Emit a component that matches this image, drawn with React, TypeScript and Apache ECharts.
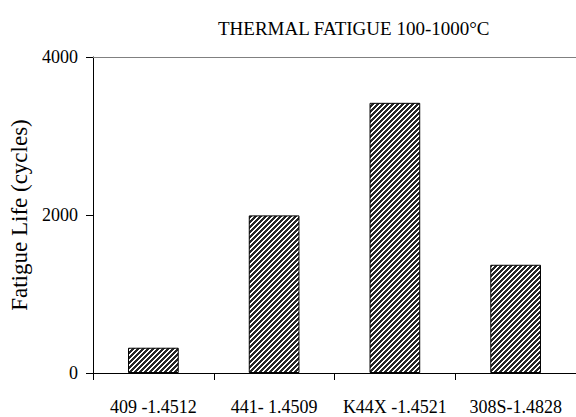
import React, { useEffect, useRef } from "react";
import * as echarts from "echarts";

const categories = ["409 -1.4512", "441- 1.4509", "K44X -1.4521", "308S-1.4828"];
const fatigueLife = [320, 1995, 3420, 1370];
const yTicks = { min: 0, max: 4000, interval: 2000 };
const titleText = "THERMAL FATIGUE 100-1000°C";
const yName = "Fatigue Life (cycles)";

function makeHatch(): HTMLCanvasElement {
  const size = 5;
  const c = document.createElement("canvas");
  c.width = size;
  c.height = size;
  const ctx = c.getContext("2d")!;
  ctx.fillStyle = "#ffffff";
  ctx.fillRect(0, 0, size, size);
  ctx.fillStyle = "#262626";
  for (let x = 0; x < size; x++) {
    for (let y = 0; y < size; y++) {
      if ((x + y) % size < 3) ctx.fillRect(x, y, 1, 1);
    }
  }
  return c;
}

export default function App() {
  const ref = useRef<HTMLDivElement>(null);
  useEffect(() => {
    if (!ref.current) return;
    const chart = echarts.init(ref.current, undefined, { renderer: "svg" });
    const hatch = makeHatch();
    const font = "'Liberation Serif', 'Times New Roman', serif";
    chart.setOption({
      animation: false,
      backgroundColor: "#ffffff",
      title: {
        text: titleText,
        left: 213,
        top: 14,
        textStyle: { fontFamily: font, fontSize: 19, fontWeight: "normal", color: "#000" },
      },
      grid: { left: 93, top: 57, bottom: 44, right: -6, containLabel: false },
      xAxis: [
        {
          type: "category",
          data: categories,
          position: "bottom",
          axisLine: { lineStyle: { color: "#000", width: 1 } },
          axisTick: { show: true, length: 7, alignWithLabel: false, lineStyle: { color: "#000" } },
          axisLabel: { interval: 0, margin: 25, fontFamily: font, fontSize: 18, color: "#000", hideOverlap: false },
          splitLine: { show: false },
        },
        {
          type: "category",
          data: categories,
          position: "top",
          axisLine: { lineStyle: { color: "#808080", width: 1 } },
          axisTick: { show: false },
          axisLabel: { show: false },
        },
      ],
      yAxis: {
        type: "value",
        min: yTicks.min,
        max: yTicks.max,
        interval: yTicks.interval,
        name: yName,
        nameLocation: "middle",
        nameGap: 62,
        nameTextStyle: { fontFamily: font, fontSize: 23, color: "#000" },
        axisLine: { show: true, lineStyle: { color: "#000", width: 1 } },
        axisTick: { show: true, length: 7, lineStyle: { color: "#000" } },
        axisLabel: {
          margin: 15,
          fontFamily: font,
          fontSize: 18,
          color: "#000",
          formatter: (v: number) => String(v),
        },
        splitLine: { show: false },
      },
      series: [
        {
          type: "bar",
          data: fatigueLife,
          barWidth: "42%",
          itemStyle: {
            color: { image: hatch, repeat: "repeat" },
            borderColor: "#000",
            borderWidth: 1,
          },
        },
      ],
    });
    return () => chart.dispose();
  }, []);
  return <div ref={ref} style={{ width: 576, height: 417, position: "absolute", left: 0, top: 0 }} />;
}
